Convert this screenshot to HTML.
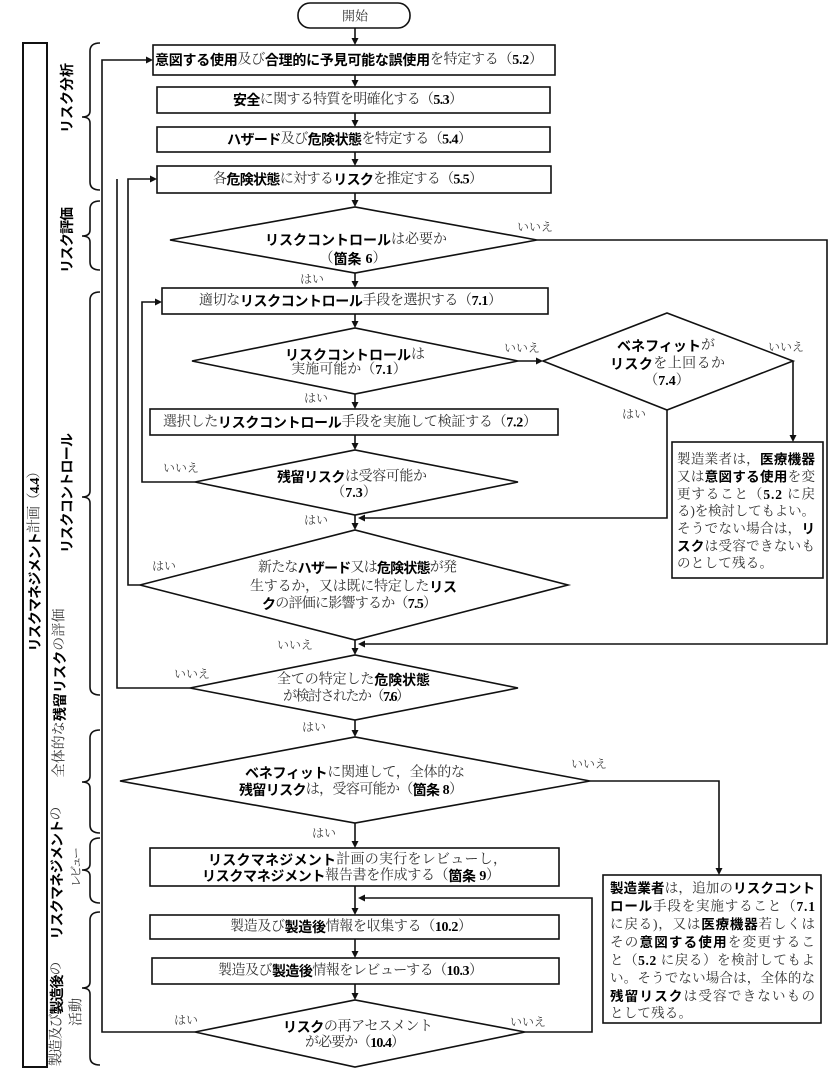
<!DOCTYPE html>
<html><head><meta charset="utf-8">
<style>
html,body{margin:0;padding:0;background:#fff;}
svg{display:block;}
.r{font-family:"Liberation Serif","Noto Serif CJK SC",serif;fill:#333;font-size:14px;}
.b{font-family:"Liberation Sans","Noto Sans CJK JP",sans-serif;font-weight:bold;fill:#000;}
.n{font-family:"Liberation Serif","Noto Serif CJK SC",serif;font-weight:bold;fill:#000;}
.lab{font-family:"Liberation Serif","Noto Serif CJK SC",serif;fill:#444;font-size:12px;}
.sh{fill:#fff;stroke:#111;stroke-width:1.6;}
.ln{fill:none;stroke:#111;stroke-width:1.6;}
.ah{fill:#111;stroke:none;}
</style></head>
<body>
<svg width="836" height="1079" viewBox="0 0 836 1079" xmlns="http://www.w3.org/2000/svg">

<!-- left outer bar -->
<rect x="23" y="43" width="24" height="1024" fill="#fff" stroke="#111" stroke-width="2"/>

<!-- braces -->
<g class="ln" stroke-width="1.3">
<path d="M100 43 Q90 43 90 51 L90 111 Q90 117 82 117 Q90 117 90 123 L90 182 Q90 190 100 190"/>
<path d="M100 201 Q90 201 90 209 L90 230 Q90 236 82 236 Q90 236 90 242 L90 262 Q90 270 100 270"/>
<path d="M100 292 Q90 292 90 300 L90 491 Q90 497 82 497 Q90 497 90 503 L90 687 Q90 695 100 695"/>
<path d="M100 730 Q90 730 90 738 L90 776 Q90 782 82 782 Q90 782 90 788 L90 825 Q90 833 100 833"/>
<path d="M100 838 Q90 838 90 846 L90 864 Q90 870 82 870 Q90 870 90 876 L90 895 Q90 903 100 903"/>
<path d="M100 912 Q90 912 90 920 L90 982 Q90 988 82 988 Q90 988 90 994 L90 1057 Q90 1065 100 1065"/>
</g>

<!-- vertical labels -->
<text class="r b" x="67" y="98" transform="rotate(-90 67 98)" text-anchor="middle" dominant-baseline="central" textLength="70">リスク分析</text>
<text class="r b" x="67" y="240" transform="rotate(-90 67 240)" text-anchor="middle" dominant-baseline="central" textLength="66">リスク評価</text>
<text class="r b" x="67" y="493" transform="rotate(-90 67 493)" text-anchor="middle" dominant-baseline="central" textLength="120">リスクコントロール</text>
<text class="r" x="35" y="558" transform="rotate(-90 35 558)" text-anchor="middle" dominant-baseline="central" textLength="187"><tspan class="b">リスクマネジメント</tspan>計画（<tspan class="n">4.4</tspan>）</text>
<text class="r" x="60" y="693" transform="rotate(-90 60 693)" text-anchor="middle" dominant-baseline="central" textLength="169">全体的な<tspan class="b">残留リスク</tspan>の評価</text>
<text class="r" x="57" y="873" transform="rotate(-90 57 873)" text-anchor="middle" dominant-baseline="central" textLength="133"><tspan class="b">リスクマネジメント</tspan>の</text>
<text class="r" x="76" y="867" transform="rotate(-90 76 867)" text-anchor="middle" dominant-baseline="central" textLength="40" style="font-size:12px">レビュー</text>
<text class="r" x="57" y="1014" transform="rotate(-90 57 1014)" text-anchor="middle" dominant-baseline="central" textLength="105">製造及び<tspan class="b">製造後</tspan>の</text>
<text class="r" x="77" y="1012" transform="rotate(-90 77 1012)" text-anchor="middle" dominant-baseline="central" textLength="28">活動</text>

<!-- connector lines -->
<g class="ln">
<path d="M355 28 V41"/><path d="M355 75 V83"/><path d="M355 113 V123"/><path d="M355 152 V162"/><path d="M355 193 V203"/>
<path d="M355 273 V284"/><path d="M355 314 V324"/><path d="M355 394 V405"/><path d="M355 435 V446"/>
<path d="M355 515 V526"/><path d="M355 640 V651"/><path d="M355 720 V733"/><path d="M355 823 V844"/>
<path d="M355 886 V911"/><path d="M355 939 V954"/><path d="M355 984 V996"/>
<path d="M537 240 H827 V644 H364"/>
<path d="M518 361 H537"/>
<path d="M793 361 V436"/>
<path d="M667 410 V518 H364"/>
<path d="M195 482 H142 V302 H156"/>
<path d="M140 585 H128 V179 H151"/>
<path d="M190 688 H117 V179"/>
<path d="M590 781 H719 V869"/>
<path d="M195 1032 H102 V60 H147"/>
<path d="M525 1032 H592 V898 H364"/>
</g>

<!-- arrowheads -->
<g class="ah">
<polygon points="351.5,38 358.5,38 355,45"/>
<polygon points="351.5,80 358.5,80 355,87"/>
<polygon points="351.5,120 358.5,120 355,127"/>
<polygon points="351.5,159 358.5,159 355,166"/>
<polygon points="351.5,200 358.5,200 355,207"/>
<polygon points="351.5,281 358.5,281 355,288"/>
<polygon points="351.5,321 358.5,321 355,328"/>
<polygon points="351.5,402 358.5,402 355,409"/>
<polygon points="351.5,443 358.5,443 355,450"/>
<polygon points="351.5,523 358.5,523 355,530"/>
<polygon points="351.5,648 358.5,648 355,655"/>
<polygon points="351.5,730 358.5,730 355,737"/>
<polygon points="351.5,841 358.5,841 355,848"/>
<polygon points="351.5,908 358.5,908 355,915"/>
<polygon points="351.5,951 358.5,951 355,958"/>
<polygon points="351.5,993 358.5,993 355,1000"/>
<polygon points="365,640.5 365,647.5 358,644"/>
<polygon points="365,514.5 365,521.5 358,518"/>
<polygon points="365,894.5 365,901.5 358,898"/>
<polygon points="536,357.5 536,364.5 543,361"/>
<polygon points="789.5,435 796.5,435 793,442"/>
<polygon points="715.5,868 722.5,868 719,875"/>
<polygon points="155,298.5 155,305.5 162,302"/>
<polygon points="150,175.5 150,182.5 157,179"/>
<polygon points="146,56.5 146,63.5 153,60"/>
</g>

<!-- start -->
<rect class="sh" x="298" y="3" width="112" height="25" rx="12"/>
<text class="r" x="355" y="16" text-anchor="middle" dominant-baseline="central" style="font-size:13px">開始</text>

<!-- boxes -->
<rect class="sh" x="153" y="45" width="402" height="30"/>
<text class="r" x="155" y="60" dominant-baseline="central" textLength="388"><tspan class="b">意図する使用</tspan>及び<tspan class="b">合理的に予見可能な誤使用</tspan>を特定する（<tspan class="n">5.2</tspan>）</text>

<rect class="sh" x="157" y="87" width="393" height="26"/>
<text class="r" x="233" y="100" dominant-baseline="central" textLength="230"><tspan class="b">安全</tspan>に関する特質を明確化する（<tspan class="n">5.3</tspan>）</text>

<rect class="sh" x="157" y="127" width="393" height="25"/>
<text class="r" x="227" y="139.5" dominant-baseline="central" textLength="245"><tspan class="b">ハザード</tspan>及び<tspan class="b">危険状態</tspan>を特定する（<tspan class="n">5.4</tspan>）</text>

<rect class="sh" x="157" y="166" width="394" height="27"/>
<text class="r" x="213" y="179.5" dominant-baseline="central" textLength="270">各<tspan class="b">危険状態</tspan>に対する<tspan class="b">リスク</tspan>を推定する（<tspan class="n">5.5</tspan>）</text>

<!-- diamond 1 -->
<polygon class="sh" points="170,240 355,207 537,240 355,273"/>
<text class="r" x="265" y="240" dominant-baseline="central" textLength="182"><tspan class="b">リスクコントロール</tspan>は必要か</text>
<text class="r" x="353" y="259" text-anchor="middle" dominant-baseline="central">（<tspan class="b">箇条 </tspan><tspan class="n">6</tspan>）</text>
<text class="lab" x="535" y="227" text-anchor="middle" dominant-baseline="central">いいえ</text>
<text class="lab" x="312" y="279" text-anchor="middle" dominant-baseline="central">はい</text>

<rect class="sh" x="162" y="288" width="386" height="26"/>
<text class="r" x="199" y="301" dominant-baseline="central" textLength="303">適切な<tspan class="b">リスクコントロール</tspan>手段を選択する（<tspan class="n">7.1</tspan>）</text>

<!-- diamond 2 -->
<polygon class="sh" points="192,361 355,328 518,361 355,394"/>
<text class="r" x="285" y="355" dominant-baseline="central" textLength="140"><tspan class="b">リスクコントロール</tspan>は</text>
<text class="r" x="349" y="370" text-anchor="middle" dominant-baseline="central">実施可能か（<tspan class="n">7.1</tspan>）</text>
<text class="lab" x="522" y="348" text-anchor="middle" dominant-baseline="central">いいえ</text>
<text class="lab" x="316" y="398" text-anchor="middle" dominant-baseline="central">はい</text>

<!-- diamond 3 -->
<polygon class="sh" points="543,361 667,313 793,361 667,410"/>
<text class="r" x="617" y="346" dominant-baseline="central" textLength="98"><tspan class="b">ベネフィット</tspan>が</text>
<text class="r" x="610" y="364" dominant-baseline="central" textLength="115"><tspan class="b">リスク</tspan>を上回るか</text>
<text class="r" x="667" y="381" text-anchor="middle" dominant-baseline="central">（<tspan class="n">7.4</tspan>）</text>
<text class="lab" x="786" y="347" text-anchor="middle" dominant-baseline="central">いいえ</text>
<text class="lab" x="634" y="414" text-anchor="middle" dominant-baseline="central">はい</text>

<!-- right box 1 -->
<rect class="sh" x="672" y="442" width="151" height="136"/>
<g class="r" style="font-size:13.5px">
<text x="677" y="459" dominant-baseline="central" textLength="138">製造業者は，<tspan class="b">医療機器</tspan></text>
<text x="677" y="476.5" dominant-baseline="central" textLength="138">又は<tspan class="b">意図する使用</tspan>を変</text>
<text x="677" y="494" dominant-baseline="central" textLength="138">更すること（<tspan class="n">5.2</tspan> に戻</text>
<text x="677" y="511" dominant-baseline="central" textLength="138">る)を検討してもよい。</text>
<text x="677" y="528.5" dominant-baseline="central" textLength="138">そうでない場合は，<tspan class="b">リ</tspan></text>
<text x="677" y="546" dominant-baseline="central" textLength="138"><tspan class="b">スク</tspan>は受容できないも</text>
<text x="677" y="563" dominant-baseline="central" textLength="96">のとして残る。</text>
</g>

<rect class="sh" x="150" y="409" width="408" height="26"/>
<text class="r" x="163" y="422.5" dominant-baseline="central" textLength="374">選択した<tspan class="b">リスクコントロール</tspan>手段を実施して検証する（<tspan class="n">7.2</tspan>）</text>

<!-- diamond 4 -->
<polygon class="sh" points="195,482 355,450 518,482 355,515"/>
<text class="r" x="277" y="477" dominant-baseline="central" textLength="150"><tspan class="b">残留リスク</tspan>は受容可能か</text>
<text class="r" x="354" y="493" text-anchor="middle" dominant-baseline="central">（<tspan class="n">7.3</tspan>）</text>
<text class="lab" x="181" y="468" text-anchor="middle" dominant-baseline="central">いいえ</text>
<text class="lab" x="316" y="520" text-anchor="middle" dominant-baseline="central">はい</text>

<!-- diamond 5 -->
<polygon class="sh" points="140,585 355,530 568,585 355,640"/>
<text class="r" x="258" y="568" dominant-baseline="central" textLength="199">新たな<tspan class="b">ハザード</tspan>又は<tspan class="b">危険状態</tspan>が発</text>
<text class="r" x="250" y="587" dominant-baseline="central" textLength="207">生するか，又は既に特定した<tspan class="b">リス</tspan></text>
<text class="r" x="262" y="604" dominant-baseline="central" textLength="175"><tspan class="b">ク</tspan>の評価に影響するか（<tspan class="n">7.5</tspan>）</text>
<text class="lab" x="164" y="566" text-anchor="middle" dominant-baseline="central">はい</text>
<text class="lab" x="295" y="645" text-anchor="middle" dominant-baseline="central">いいえ</text>

<!-- diamond 6 -->
<polygon class="sh" points="190,688 355,655 518,688 355,720"/>
<text class="r" x="277" y="680" dominant-baseline="central" textLength="153">全ての特定した<tspan class="b">危険状態</tspan></text>
<text class="r" x="283" y="697" dominant-baseline="central" textLength="127">が検討されたか（<tspan class="n">7.6</tspan>）</text>
<text class="lab" x="192" y="674" text-anchor="middle" dominant-baseline="central">いいえ</text>
<text class="lab" x="314" y="727" text-anchor="middle" dominant-baseline="central">はい</text>

<!-- diamond 7 -->
<polygon class="sh" points="120,781 355,737 590,781 355,823"/>
<text class="r" x="245" y="773" dominant-baseline="central" textLength="220"><tspan class="b">ベネフィット</tspan>に関連して，全体的な</text>
<text class="r" x="239" y="790" dominant-baseline="central" textLength="224"><tspan class="b">残留リスク</tspan>は，受容可能か（<tspan class="b">箇条 </tspan><tspan class="n">8</tspan>）</text>
<text class="lab" x="589" y="764" text-anchor="middle" dominant-baseline="central">いいえ</text>
<text class="lab" x="324" y="833" text-anchor="middle" dominant-baseline="central">はい</text>

<!-- right box 2 -->
<rect class="sh" x="603" y="875" width="218" height="148"/>
<g class="r" style="font-size:13.5px">
<text x="610" y="888" dominant-baseline="central" textLength="205"><tspan class="b">製造業者</tspan>は，追加の<tspan class="b">リスクコント</tspan></text>
<text x="610" y="906" dominant-baseline="central" textLength="205"><tspan class="b">ロール</tspan>手段を実施すること（<tspan class="n">7.1</tspan></text>
<text x="610" y="924" dominant-baseline="central" textLength="205">に戻る)，又は<tspan class="b">医療機器</tspan>若しくは</text>
<text x="610" y="942" dominant-baseline="central" textLength="205">その<tspan class="b">意図する使用</tspan>を変更するこ</text>
<text x="610" y="960" dominant-baseline="central" textLength="205">と（<tspan class="n">5.2</tspan> に戻る）を検討してもよ</text>
<text x="610" y="978" dominant-baseline="central" textLength="205">い。そうでない場合は，全体的な</text>
<text x="610" y="996" dominant-baseline="central" textLength="205"><tspan class="b">残留リスク</tspan>は受容できないもの</text>
<text x="610" y="1013" dominant-baseline="central" textLength="82">として残る。</text>
</g>

<!-- box 7 -->
<rect class="sh" x="150" y="848" width="409" height="38"/>
<text class="r" x="208" y="860" dominant-baseline="central" textLength="299"><tspan class="b">リスクマネジメント</tspan>計画の実行をレビューし，</text>
<text class="r" x="202" y="876" dominant-baseline="central" textLength="298"><tspan class="b">リスクマネジメント</tspan>報告書を作成する（<tspan class="b">箇条 </tspan><tspan class="n">9</tspan>）</text>

<rect class="sh" x="150" y="915" width="409" height="24"/>
<text class="r" x="230" y="927" dominant-baseline="central" textLength="242">製造及び<tspan class="b">製造後</tspan>情報を収集する（<tspan class="n">10.2</tspan>）</text>

<rect class="sh" x="152" y="958" width="407" height="26"/>
<text class="r" x="218" y="971" dominant-baseline="central" textLength="265">製造及び<tspan class="b">製造後</tspan>情報をレビューする（<tspan class="n">10.3</tspan>）</text>

<!-- diamond 8 -->
<polygon class="sh" points="195,1032 355,1000 525,1032 355,1067"/>
<text class="r" x="283" y="1027" dominant-baseline="central" textLength="150"><tspan class="b">リスク</tspan>の再アセスメント</text>
<text class="r" x="305" y="1043" dominant-baseline="central" textLength="100">が必要か（<tspan class="n">10.4</tspan>）</text>
<text class="lab" x="186" y="1020" text-anchor="middle" dominant-baseline="central">はい</text>
<text class="lab" x="528" y="1022" text-anchor="middle" dominant-baseline="central">いいえ</text>

</svg>
</body></html>
